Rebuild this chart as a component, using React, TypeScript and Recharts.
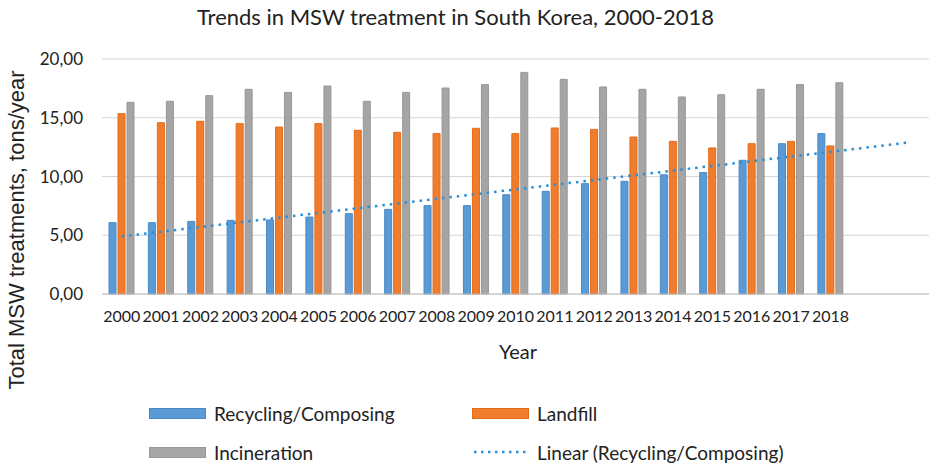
import React from "react";
import {
  ComposedChart,
  Bar,
  Line,
  XAxis,
  YAxis,
  CartesianGrid,
} from "recharts";

const years = [
  "2000", "2001", "2002", "2003", "2004", "2005", "2006", "2007", "2008", "2009",
  "2010", "2011", "2012", "2013", "2014", "2015", "2016", "2017", "2018",
];
const forecastYears = ["2019", "2020"];

const recycling = [
  6.07, 6.07, 6.18, 6.27, 6.3, 6.55, 6.84, 7.2, 7.52, 7.52,
  8.45, 8.74, 9.39, 9.59, 10.15, 10.33, 11.38, 12.79, 13.65,
];
const landfill = [
  15.35, 14.58, 14.7, 14.5, 14.21, 14.5, 13.93, 13.76, 13.65, 14.1,
  13.65, 14.13, 14.01, 13.36, 12.99, 12.43, 12.79, 12.99, 12.6,
];
const incineration = [
  16.31, 16.4, 16.88, 17.42, 17.16, 17.7, 16.4, 17.16, 17.53, 17.82,
  18.86, 18.27, 17.62, 17.42, 16.77, 16.96, 17.42, 17.82, 17.98,
];
// Linear trend endpoints (2000 and 2020)
const trendStart = { year: "2000", value: 4.9 };
const trendEnd = { year: "2020", value: 12.9 };

const yTicks = [0, 5, 10, 15, 20];

const allYears = [...years, ...forecastYears];
const data = allYears.map((y, i) => ({
  year: y,
  recycling: i < years.length ? recycling[i] : null,
  landfill: i < years.length ? landfill[i] : null,
  incineration: i < years.length ? incineration[i] : null,
  trend:
    y === trendStart.year
      ? trendStart.value
      : y === trendEnd.year
      ? trendEnd.value
      : null,
}));

const FONT = "Lato, 'Open Sans', sans-serif";

const legendItems = [
  { label: "Recycling/Composing", color: "#5b9bd5", border: "#4a88c6", type: "bar", x: 149, y: 413 },
  { label: "Landfill", color: "#f07c2e", border: "#e56a17", type: "bar", x: 472, y: 413 },
  { label: "Incineration", color: "#a5a5a5", border: "#979797", type: "bar", x: 149, y: 452 },
  { label: "Linear (Recycling/Composing)", color: "#2a8fd8", border: "#2a8fd8", type: "line", x: 472, y: 452 },
];

const LegendBlock = () => (
  <>
    {legendItems.map((it) => (
      <div
        key={it.label}
        style={{
          position: "absolute",
          left: it.x,
          top: it.y - 12,
          height: 24,
          display: "flex",
          alignItems: "center",
          fontFamily: FONT,
          fontSize: 19,
          color: "#222",
          whiteSpace: "nowrap",
        }}
      >
        {it.type === "bar" ? (
          <span
            style={{
              display: "inline-block",
              width: 55,
              height: 9,
              background: it.color,
              border: `1px solid ${it.border}`,
              marginRight: 8,
            }}
          />
        ) : (
          <svg width={57} height={10} style={{ marginRight: 8 }}>
            <line
              x1={2}
              y1={5}
              x2={55}
              y2={5}
              stroke={it.color}
              strokeWidth={2.5}
              strokeDasharray="2.5 4.5"
            />
          </svg>
        )}
        <span>{it.label}</span>
      </div>
    ))}
  </>
);

export default function App() {
  return (
    <div
      style={{
        position: "absolute",
        left: 0,
        top: 0,
        width: 935,
        height: 466,
        background: "#fff",
      }}
    >
      <ComposedChart
        width={935}
        height={466}
        data={data}
        margin={{ top: 59, right: 6, bottom: 142, left: 0 }}
        barSize={7}
        barGap={2}
      >
        <CartesianGrid vertical={false} stroke="#d6d6d6" strokeWidth={1.2} />
        <XAxis
          dataKey="year"
          height={30}
          interval={0}
          tickLine={false}
          tickSize={0}
          tickMargin={17}
          axisLine={{ stroke: "#bfbfbf", strokeWidth: 1.2 }}
          tickFormatter={(v: string) => (years.includes(v) ? v : "")}
          tick={{ fontFamily: FONT, fontSize: 16, fill: "#222" }}
        />
        <YAxis
          width={102}
          domain={[0, 20]}
          ticks={yTicks}
          interval={0}
          axisLine={false}
          tickLine={false}
          tickSize={0}
          tickMargin={19}
          tickFormatter={(v: number) => v.toFixed(2).replace(".", ",")}
          tick={{ fontFamily: FONT, fontSize: 17, fill: "#222" }}
        />
        <Bar
          dataKey="recycling"
          name="Recycling/Composing"
          fill="#5b9bd5"
          stroke="#4a88c6"
          strokeWidth={1}
          isAnimationActive={false}
        />
        <Bar
          dataKey="landfill"
          name="Landfill"
          fill="#f07c2e"
          stroke="#e56a17"
          strokeWidth={1}
          isAnimationActive={false}
        />
        <Bar
          dataKey="incineration"
          name="Incineration"
          fill="#a5a5a5"
          stroke="#979797"
          strokeWidth={1}
          isAnimationActive={false}
        />
        <Line
          dataKey="trend"
          name="Linear (Recycling/Composing)"
          type="linear"
          stroke="#2a8fd8"
          strokeWidth={2.5}
          strokeDasharray="2.5 5"
          dot={false}
          activeDot={false}
          connectNulls
          isAnimationActive={false}
        />
      </ComposedChart>
      <LegendBlock />
      <div
        style={{
          position: "absolute",
          left: -12,
          width: 935,
          top: 3,
          textAlign: "center",
          fontFamily: FONT,
          fontSize: 22,
          color: "#222",
          whiteSpace: "nowrap",
        }}
      >
        Trends in MSW treatment in South Korea, 2000-2018
      </div>
      <div
        style={{
          position: "absolute",
          left: 518 - 50,
          width: 100,
          top: 339,
          textAlign: "center",
          fontFamily: FONT,
          fontSize: 20,
          color: "#222",
        }}
      >
        Year
      </div>
      <div
        style={{
          position: "absolute",
          left: 17 - 200,
          top: 230 - 13,
          width: 400,
          height: 26,
          lineHeight: "26px",
          textAlign: "center",
          transform: "rotate(-90deg)",
          fontFamily: "'Liberation Sans', Arial, sans-serif",
          fontSize: 22,
          color: "#222",
          whiteSpace: "nowrap",
        }}
      >
        Total MSW treatments, tons/year
      </div>
    </div>
  );
}
